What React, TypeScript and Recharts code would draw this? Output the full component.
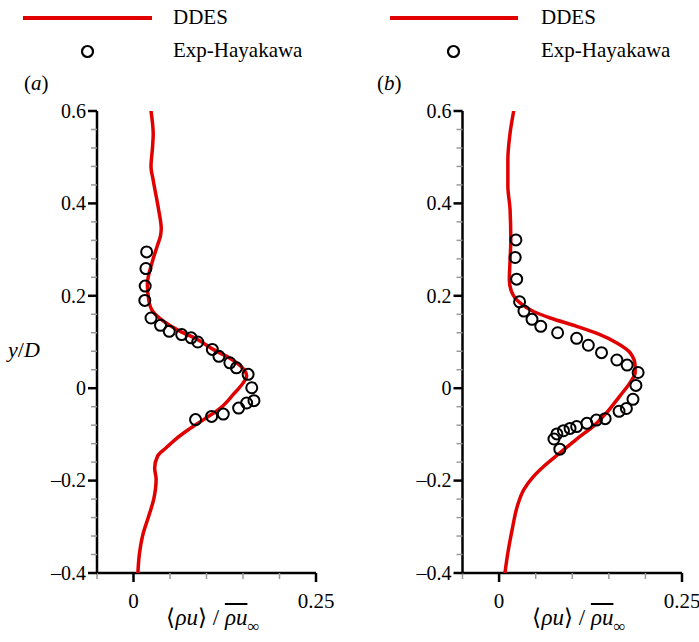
import React from 'react';
import { ScatterChart, Scatter, XAxis, YAxis } from 'recharts';

// DDES profile, panel (a)
const ddesAx = [0.024, 0.027, 0.026, 0.024, 0.027, 0.034, 0.038, 0.037, 0.033, 0.026, 0.019, 0.021, 0.026, 0.041, 0.064, 0.087, 0.109, 0.132, 0.15, 0.155, 0.15, 0.137, 0.119, 0.096, 0.075, 0.058, 0.044, 0.033, 0.029, 0.031, 0.028, 0.02, 0.013, 0.008, 0.006];
const ddesAy = [0.6, 0.55, 0.52, 0.48, 0.45, 0.39, 0.345, 0.33, 0.31, 0.275, 0.225, 0.19, 0.167, 0.145, 0.123, 0.106, 0.084, 0.065, 0.043, 0.026, 0.011, -0.013, -0.043, -0.068, -0.09, -0.11, -0.13, -0.147, -0.173, -0.197, -0.238, -0.281, -0.316, -0.36, -0.4];

// Exp-Hayakawa, panel (a)
const expAx = [0.018, 0.017, 0.016, 0.0155, 0.024, 0.037, 0.049, 0.066, 0.079, 0.088, 0.108, 0.117, 0.132, 0.141, 0.157, 0.162, 0.165, 0.155, 0.144, 0.123, 0.107, 0.085];
const expAy = [0.295, 0.259, 0.221, 0.19, 0.152, 0.136, 0.123, 0.116, 0.109, 0.1, 0.084, 0.069, 0.055, 0.044, 0.03, 0.001, -0.027, -0.032, -0.043, -0.056, -0.061, -0.068];

// DDES profile, panel (b)
const ddesBx = [0.02, 0.015, 0.012, 0.012, 0.015, 0.016, 0.015, 0.014, 0.017, 0.029, 0.047, 0.07, 0.106, 0.138, 0.161, 0.179, 0.186, 0.186, 0.179, 0.165, 0.147, 0.129, 0.106, 0.084, 0.062, 0.046, 0.034, 0.025, 0.018, 0.012, 0.008];
const ddesBy = [0.6, 0.552, 0.494, 0.437, 0.387, 0.32, 0.277, 0.234, 0.209, 0.184, 0.166, 0.152, 0.134, 0.116, 0.098, 0.077, 0.048, 0.034, 0.012, -0.017, -0.053, -0.082, -0.11, -0.139, -0.168, -0.193, -0.219, -0.255, -0.305, -0.356, -0.4];

// Exp-Hayakawa, panel (b)
const expBx = [0.023, 0.022, 0.024, 0.028, 0.034, 0.045, 0.057, 0.08, 0.106, 0.122, 0.14, 0.161, 0.175, 0.19, 0.187, 0.183, 0.174, 0.164, 0.145, 0.133, 0.12, 0.106, 0.097, 0.088, 0.079, 0.075, 0.083];
const expBy = [0.321, 0.283, 0.236, 0.187, 0.167, 0.149, 0.134, 0.12, 0.108, 0.093, 0.077, 0.061, 0.05, 0.034, 0.006, -0.024, -0.044, -0.05, -0.066, -0.069, -0.076, -0.083, -0.087, -0.092, -0.099, -0.11, -0.132];

const xTicks = [-0.05, 0, 0.05, 0.1, 0.15, 0.2, 0.25];
const xLabels = ['', '0', '', '', '', '', '0.25'];
const yTicks = [-0.4, -0.36, -0.32, -0.28, -0.24, -0.2, -0.16, -0.12, -0.08, -0.04, 0, 0.04, 0.08, 0.12, 0.16, 0.2, 0.24, 0.28, 0.32, 0.36, 0.4, 0.44, 0.48, 0.52, 0.56, 0.6];
const yLabels = ['0.6', '0.4', '0.2', '0', '–0.2', '–0.4'];
const yMajor = [0.6, 0.4, 0.2, 0, -0.2, -0.4];

const RED = '#e00000';
const FONT = '"Liberation Serif", Tinos';
const serif = { fontFamily: FONT };

const zip = (xs: number[], ys: number[]) => xs.map((x, i) => ({ x, y: ys[i] }));

const YTick = (props: any) => {
  const { x, y, payload } = props;
  const idx = yMajor.findIndex(m => Math.abs(m - payload.value) < 1e-6);
  const major = idx >= 0;
  return (
    <g>
      <line x1={x} x2={x - (major ? 9 : 6)} y1={y} y2={y} stroke={major ? '#000' : '#999'} strokeWidth={major ? 2.5 : 1.5} />
      {major && (
        <text x={x - 11} y={y} dy="0.34em" textAnchor="end" style={serif} fontSize={20} fill="#000">
          {yLabels[idx]}
        </text>
      )}
    </g>
  );
};

const XTick = (props: any) => {
  const { x, y, index } = props;
  const label = xLabels[index];
  const major = label !== '';
  return (
    <g>
      <line x1={x} x2={x} y1={y} y2={y + (major ? 9 : 6)} stroke={major ? '#000' : '#999'} strokeWidth={major ? 2.5 : 1.5} />
      {major && (
        <text x={x} y={y + 35} textAnchor="middle" style={serif} fontSize={21} fill="#000">
          {label}
        </text>
      )}
    </g>
  );
};

const Ring = (props: any) => {
  const { cx, cy } = props;
  return <circle cx={cx} cy={cy} r={5.5} fill="none" stroke="#000" strokeWidth={2} />;
};

function Panel({ line, pts, yAxisWidth, right }: { line: any[]; pts: any[]; yAxisWidth: number; right: number }) {
  return (
    <ScatterChart width={349} height={642} margin={{ top: 111, right, bottom: 39, left: 0 }}>
      <XAxis type="number" dataKey="x" domain={[-0.05, 0.25]} ticks={xTicks} interval={0} allowDataOverflow
        height={30} tickSize={0} tickMargin={0} tickLine={false} axisLine={{ stroke: '#000', strokeWidth: 2.5 }} tick={<XTick />} />
      <YAxis type="number" dataKey="y" domain={[-0.4, 0.6]} ticks={yTicks} interval={0} allowDataOverflow
        width={yAxisWidth} tickSize={0} tickMargin={0} tickLine={false} axisLine={{ stroke: '#000', strokeWidth: 2.5 }} tick={<YTick />} />
      <Scatter data={line} lineJointType="monotoneY" line={{ stroke: RED, strokeWidth: 3.5, strokeLinejoin: 'round', strokeLinecap: 'round' }}
        shape={() => <g />} isAnimationActive={false} />
      <Scatter data={pts} shape={<Ring />} isAnimationActive={false} />
    </ScatterChart>
  );
}

function AxisTitle({ cx }: { cx: number }) {
  return (
    <div style={{ position: 'absolute', left: cx - 100, top: 603, width: 200, textAlign: 'center', fontFamily: FONT, fontSize: 23, lineHeight: '30px', whiteSpace: 'nowrap' }}>
      ⟨<i>ρu</i>⟩ / <i style={{ textDecoration: 'overline' }}>ρu</i>
      <span style={{ fontSize: 17, position: 'relative', top: 7 }}>∞</span>
    </div>
  );
}

function Overlay() {
  const t = { style: serif, fill: '#000' };
  return (
    <svg width={699} height={642} style={{ position: 'absolute', left: 0, top: 0, pointerEvents: 'none' }}>
      {/* legend (a) */}
      <line x1={23} x2={152} y1={18} y2={18} stroke={RED} strokeWidth={4} />
      <text x={173} y={24} fontSize={21} {...t}>DDES</text>
      <circle cx={87.5} cy={51.5} r={5.5} fill="none" stroke="#000" strokeWidth={2.2} />
      <text x={173} y={57} fontSize={21} {...t}>Exp-Hayakawa</text>
      {/* legend (b) */}
      <line x1={390} x2={518} y1={18} y2={18} stroke={RED} strokeWidth={4} />
      <text x={541} y={24} fontSize={21} {...t}>DDES</text>
      <circle cx={453.5} cy={51.5} r={5.5} fill="none" stroke="#000" strokeWidth={2.2} />
      <text x={541} y={57} fontSize={21} {...t}>Exp-Hayakawa</text>
      {/* panel tags */}
      <text x={24} y={90} fontSize={21} {...t}>(<tspan fontStyle="italic">a</tspan>)</text>
      <text x={377} y={90} fontSize={21} {...t}>(<tspan fontStyle="italic">b</tspan>)</text>
      {/* y label */}
      <text x={8} y={357} fontSize={22} {...t}>
        <tspan fontStyle="italic">y</tspan>/<tspan fontStyle="italic">D</tspan>
      </text>
    </svg>
  );
}

export default function App() {
  return (
    <div style={{ position: 'absolute', left: 0, top: 0, width: 699, height: 642, background: '#fff', fontFamily: FONT }}>
      <div style={{ position: 'absolute', left: 0, top: 0 }}>
        <Panel line={zip(ddesAx, ddesAy)} pts={zip(expAx, expAy)} yAxisWidth={97} right={33} />
      </div>
      <div style={{ position: 'absolute', left: 350, top: 0 }}>
        <Panel line={zip(ddesBx, ddesBy)} pts={zip(expBx, expBy)} yAxisWidth={112.5} right={17} />
      </div>
      <Overlay />
      <AxisTitle cx={213} />
      <AxisTitle cx={579} />
    </div>
  );
}
